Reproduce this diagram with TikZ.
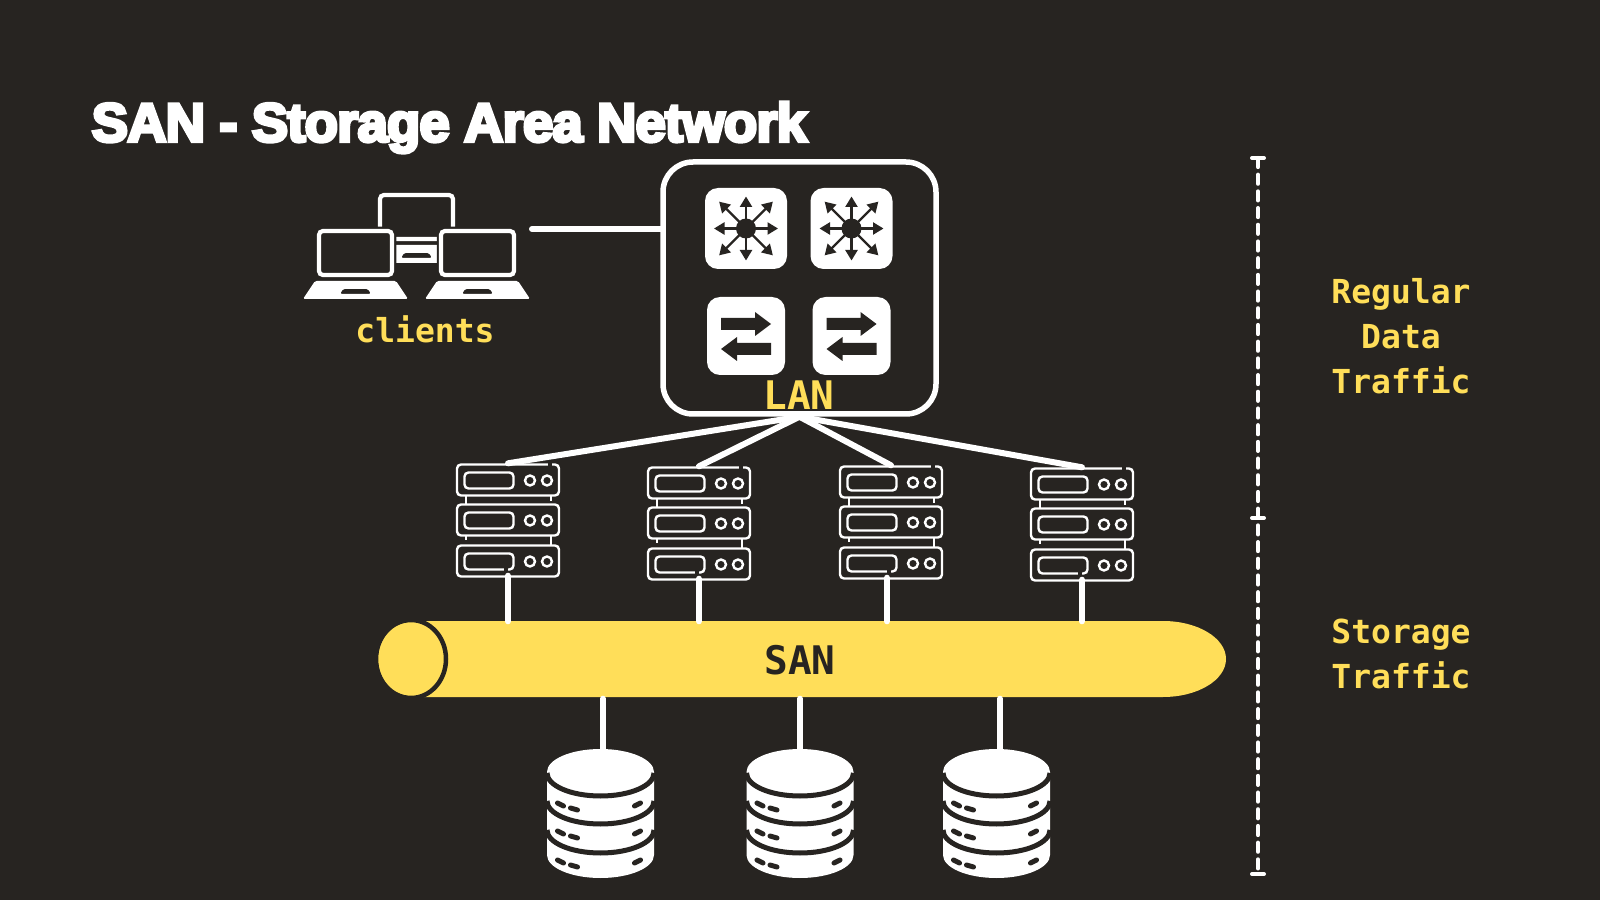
\documentclass[tikz,border=0pt]{standalone}
\usepackage{fontspec}
\setmonofont{DejaVu Sans Mono}
\newfontfamily\titlefont[LetterSpace=-1.5,FakeBold=6]{Liberation Sans Bold}
\usetikzlibrary{arrows.meta,positioning,shapes.geometric}

\definecolor{slate}{HTML}{272421}
\definecolor{amber}{HTML}{FFDE59}

\tikzset{
    rack/.pic={
        % three units, origin at the centre of the stack
        \foreach \dy in {-56,-16,25} {
            \draw[rackline] (-51,\dy) rectangle (51,\dy+31);
            \draw[rackline] (-43.5,\dy+8) rectangle (5.5,\dy+24);
            \draw[rackline] (22,\dy+16) circle (5);
            \draw[rackline] (39,\dy+16) circle (5);
        }
        \draw[rackline] (-42,-25) -- (-42,-16) (43,-25) -- (43,-20);
        \draw[rackline] (-42,15) -- (-42,19) (43,15) -- (43,25);
        % breaks in the outlines
        \draw[slate, line width=0.35mm] (40,-56) -- (44,-56) (-4,49) -- (0,49);
    },
    platter/.pic={
        % origin at the centre of the top face
        \fill[white] (-53.5,0) arc[start angle=180,end angle=360,x radius=53.5,y radius=23]
            -- (53.5,83) arc[start angle=0,end angle=180,x radius=53.5,y radius=23] -- cycle;
        \foreach \dy in {0,28,57} {
            \draw[slate,line width=0.5mm] (-53.5,\dy+1) arc[start angle=180,end angle=0,x radius=53.5,y radius=23];
            \draw[pill] (-43,\dy+31) -- (-37,\dy+34);
            \draw[pill] (-30,\dy+36) -- (-23,\dy+38);
            \draw[pill] (34,\dy+34) -- (40,\dy+31);
        }
    },
    laptop/.pic={
        % origin at the top left corner of the screen
        \draw[slate,line width=0.85mm,rounded corners=0.4mm] (2,2) rectangle (75,46);
        \draw[white,fill=slate,line width=0.42mm,rounded corners=0.4mm] (2,2) rectangle (75,46);
        \fill[white,even odd rule,rounded corners=0.15mm] (-14,70) -- (-2,52) -- (79,52) -- (91,70) -- cycle
            (23,65) -- (54,65) -- (51,60) -- (26,60) -- cycle;
    },
    router/.pic={
        \fill[slate] (0,0) circle (10);
        \foreach \a in {0,90,180,270} {
            \draw[fanline] (0,0) -- (\a:32);
        }
        \foreach \a in {45,135,225,315} {
            \draw[fanline] (0,0) -- (\a:38);
        }
    },
    switcher/.pic={
        \fill[slate] (-25,-18) -- (-25,-6) -- (9,-6) -- (9,0) -- (25,-12) -- (9,-24) -- (9,-18) -- cycle;
        \fill[slate] (25,19) -- (25,7) -- (-9,7) -- (-9,1) -- (-25,13) -- (-9,25) -- (-9,19) -- cycle;
    }
}

\begin{document}
\begin{tikzpicture}[
    x=0.1mm, y=-0.1mm,
    rackline/.style={draw=white, line width=0.24mm, rounded corners=0.4mm},
    pill/.style={slate, line width=0.5mm, line cap=round},
    fanline/.style={slate, line width=0.23mm, -{Triangle[length=1.05mm,width=1.2mm]}},
    link/.style={white, line width=0.6mm, line cap=round},
    routerbox/.style={fill=white, rounded corners=1.3mm, minimum width=8.2mm, minimum height=8.1mm},
    switchbox/.style={fill=white, rounded corners=1.3mm, minimum width=7.8mm, minimum height=7.8mm},
    rackbox/.style={minimum width=10.4mm, minimum height=11.3mm, inner sep=0pt},
    dbbox/.style={minimum width=10.7mm, minimum height=12.9mm, inner sep=0pt},
    tag/.style={text=amber, font=\ttfamily\bfseries\fontsize{9.4}{12.8}\selectfont, align=center, inner sep=0pt},
    bigtag/.style={font=\ttfamily\bfseries\fontsize{11.2}{13}\selectfont, inner sep=0pt}
]

% Canvas
\fill[slate] (0,0) rectangle (1600,900);
\useasboundingbox (0,0) rectangle (1600,900);

% Title
\node[anchor=base west, text=white, font=\titlefont\fontsize{15.5}{18}\selectfont, inner sep=0pt] (title) at (91,141.5) {SAN - Storage Area Network};

% Clients
\pic at (378,193) {laptop};
\pic at (317,229) {laptop};
\pic at (439,229) {laptop};
\coordinate (clientport) at (532,229);
\node[tag] (clients) at (425,329) {clients};

% LAN
\node[draw=white, line width=0.55mm, rounded corners=3mm, minimum width=27.3mm, minimum height=25.2mm] (lan) at (799.5,288) {};
\node[routerbox] (routerA) at (746,228.5) {};
\node[routerbox] (routerB) at (851.5,228.5) {};
\node[switchbox] (switchA) at (746,336) {};
\node[switchbox] (switchB) at (851.5,336) {};
\pic at (routerA) {router};
\pic at (routerB) {router};
\pic at (switchA) {switcher};
\pic at (switchB) {switcher};
\node[bigtag, text=amber] (lanlabel) at (799,395) {LAN};

% Servers
\node[rackbox] (rackA) at (508,520.5) {};
\node[rackbox] (rackB) at (699,523.5) {};
\node[rackbox] (rackC) at (891,522.5) {};
\node[rackbox] (rackD) at (1082,524.5) {};
\pic at (rackA) {rack};
\pic at (rackB) {rack};
\pic at (rackC) {rack};
\pic at (rackD) {rack};

% SAN bar
\fill[amber] (411,621) -- (1163,621) arc[start angle=-90,end angle=90,x radius=63,y radius=38] -- (411,697) -- cycle;
\fill[amber] (411,659) circle[x radius=33, y radius=37];
\draw[slate, line width=0.45mm] (411,659) circle[x radius=35, y radius=39];
\node[bigtag, text=slate, minimum width=85.2mm, minimum height=7.6mm] (san) at (800,660) {SAN};

% Storage
\node[dbbox] (dbA) at (600.5,813.5) {};
\node[dbbox] (dbB) at (800,813.5) {};
\node[dbbox] (dbC) at (996.5,813.5) {};
\pic at (600.5,772) {platter};
\pic at (800,772) {platter};
\pic at (996.5,772) {platter};

% Links
\draw[link] (clientport) -- (clientport -| lan.west);
\draw[link] (lan.south) -- (rackA.north);
\draw[link] (lan.south) -- (rackB.north);
\draw[link] (lan.south) -- (rackC.north);
\draw[link] (lan.south) -- (rackD.north);
\draw[link] ([yshift=0.2mm]rackA.south) -- (rackA.south |- san.north);
\draw[link] ([yshift=0.2mm]rackB.south) -- (rackB.south |- san.north);
\draw[link] ([xshift=-0.4mm,yshift=0.2mm]rackC.south) -- ([xshift=-0.4mm]rackC.south |- san.north);
\draw[link] ([yshift=0.2mm]rackD.south) -- (rackD.south |- san.north);
\draw[link] ([xshift=0.25mm]san.south -| dbA) -- ([xshift=0.25mm]dbA.north);
\draw[link] (san.south -| dbB) -- (dbB.north);
\draw[link] ([xshift=0.35mm]san.south -| dbC) -- ([xshift=0.35mm]dbC.north);

% Traffic scale
\coordinate (scaletop) at (1258,158);
\coordinate (scalemid) at (1258,518);
\coordinate (scalebot) at (1258,874);
\draw[white, line width=0.42mm, line cap=round, dash pattern=on 0.9mm off 0.77mm] (scaletop) -- (scalebot);
\draw[white, line width=0.4mm, line cap=round] ([xshift=-0.6mm]scaletop) -- ([xshift=0.6mm]scaletop);
\draw[white, line width=0.4mm, line cap=round] ([xshift=-0.6mm]scalemid) -- ([xshift=0.6mm]scalemid);
\draw[white, line width=0.4mm, line cap=round] ([xshift=-0.6mm]scalebot) -- ([xshift=0.6mm]scalebot);
\node[tag] (regular) at (1401,336) {Regular\\Data\\Traffic};
\node[tag] (storage) at (1401,654) {Storage\\Traffic};

\end{tikzpicture}
\end{document}
